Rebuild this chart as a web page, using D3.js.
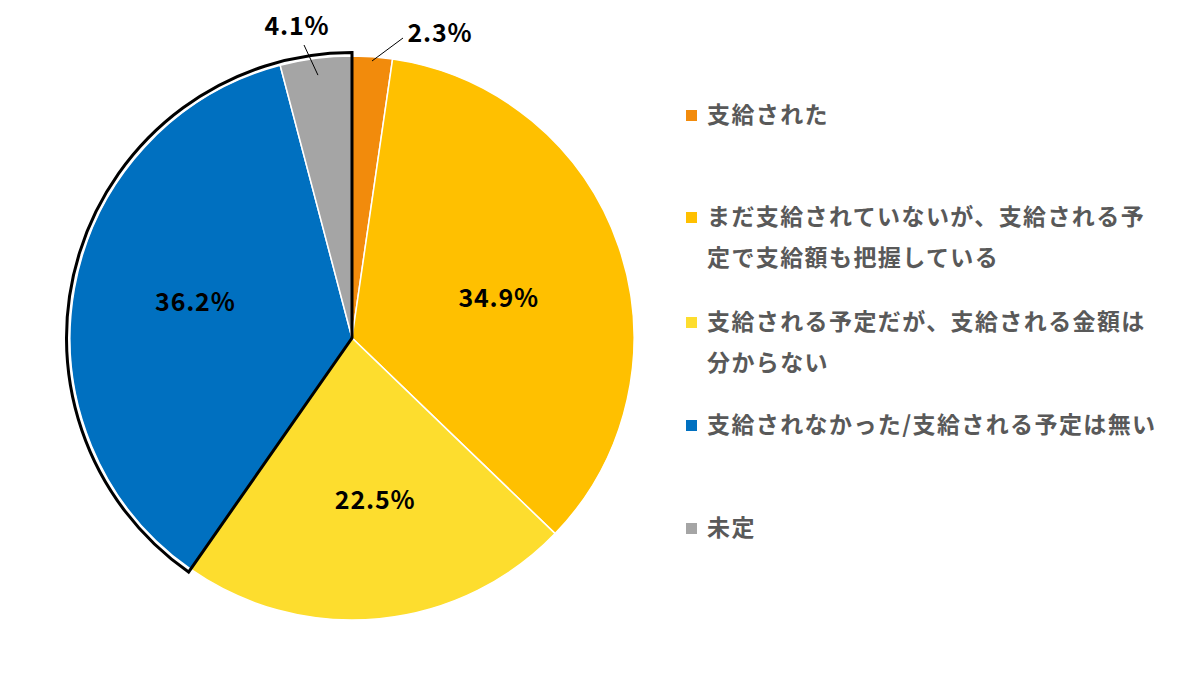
<!DOCTYPE html>
<html>
<head>
<meta charset="utf-8">
<script src="https://cdn.jsdelivr.net/npm/d3@7"></script>
<style>
  body { margin: 0; background: #fff; }
  svg { display: block; }
</style>
</head>
<body>
<div class="canvas"></div>
<script>
var width = 1200,
	height = 675;

// data
var categories = [
	"支給された",
	"まだ支給されていないが、支給される予定で支給額も把握している",
	"支給される予定だが、支給される金額は分からない",
	"支給されなかった/支給される予定は無い",
	"未定"
];
var values = [2.3, 34.9, 22.5, 36.2, 4.1];
var colors = ["#F28B0C", "#FFC000", "#FDDD2E", "#0070C0", "#A5A5A5"];
var legendLines = [
	["支給された"],
	["まだ支給されていないが、支給される予", "定で支給額も把握している"],
	["支給される予定だが、支給される金額は", "分からない"],
	["支給されなかった/支給される予定は無い"],
	["未定"]
];

var canvas = d3.select(".canvas")
	.append("svg")
	.attr("width", width)
	.attr("height", height);

var cx = 352, cy = 338, radius = 282;
var font = "'Noto Sans CJK JP', 'Noto Sans', sans-serif";

var pie = d3.pie().sort(null).value(function(d) { return d; });
var arcs = pie(values);
var arc = d3.arc().innerRadius(0).outerRadius(radius);

var g = canvas.append("g")
	.attr("transform", "translate(" + cx + "," + cy + ")");

g.selectAll("path.slice")
	.data(arcs)
	.enter().append("path")
	.attr("class", "slice")
	.attr("d", arc)
	.attr("fill", function(d, i) { return colors[i]; })
	.attr("stroke", "#fff")
	.attr("stroke-width", 1.5);

// black outline round the last two slices
var outline = d3.arc().innerRadius(0).outerRadius(radius + 3.5)
	.startAngle(arcs[3].startAngle).endAngle(arcs[4].endAngle);
g.append("path")
	.attr("d", outline())
	.attr("fill", "none")
	.attr("stroke", "#000")
	.attr("stroke-width", 3)
	.attr("stroke-linejoin", "miter");

// labels inside (small nudges off the centroid)
var inner = d3.arc().innerRadius(radius * 0.55).outerRadius(radius * 0.55);
var nudge = { 1: [0, 10], 2: [8, 8], 3: [-4, -9] };
[1, 2, 3].forEach(function(i) {
	var c = inner.centroid(arcs[i]);
	g.append("text")
		.attr("x", c[0] + nudge[i][0])
		.attr("y", c[1] + nudge[i][1])
		.attr("dy", "0.35em")
		.attr("text-anchor", "middle")
		.attr("font-family", font)
		.attr("font-weight", "bold")
		.attr("font-size", 25)
		.attr("letter-spacing", 0.8)
		.attr("fill", "#000")
		.text(values[i].toFixed(1) + "%");
});

// outside labels with leader lines
var outsideLabels = [
	{ i: 0, lx: 440, ly: 33, from: 0.985, to: [403, 38] },
	{ i: 4, lx: 297, ly: 26, from: 0.94, to: [304, 45] }
];
outsideLabels.forEach(function(o) {
	var a = (arcs[o.i].startAngle + arcs[o.i].endAngle) / 2;
	var px = cx + Math.sin(a) * radius * o.from,
		py = cy - Math.cos(a) * radius * o.from;
	canvas.append("line")
		.attr("x1", px).attr("y1", py)
		.attr("x2", o.to[0]).attr("y2", o.to[1])
		.attr("stroke", "#000")
		.attr("stroke-width", 1);
	canvas.append("text")
		.attr("x", o.lx)
		.attr("y", o.ly)
		.attr("dy", "0.35em")
		.attr("text-anchor", "middle")
		.attr("font-family", font)
		.attr("font-weight", "bold")
		.attr("font-size", 25)
		.attr("letter-spacing", 0.8)
		.attr("fill", "#000")
		.text(values[o.i].toFixed(1) + "%");
});

// legend
var legendY = [115, 217, 322, 425, 528];
var legend = canvas.append("g");
categories.forEach(function(cat, i) {
	legend.append("rect")
		.attr("x", 686)
		.attr("y", legendY[i] - 5)
		.attr("width", 11)
		.attr("height", 11)
		.attr("fill", colors[i]);
	legendLines[i].forEach(function(line, j) {
		legend.append("text")
			.attr("x", 707)
			.attr("y", legendY[i] + j * 41)
			.attr("dy", "0.35em")
			.attr("font-family", font)
			.attr("font-weight", "bold")
			.attr("font-size", 23)
			.attr("letter-spacing", 1.4)
			.attr("fill", "#595959")
			.text(line);
	});
});
</script>
</body>
</html>
